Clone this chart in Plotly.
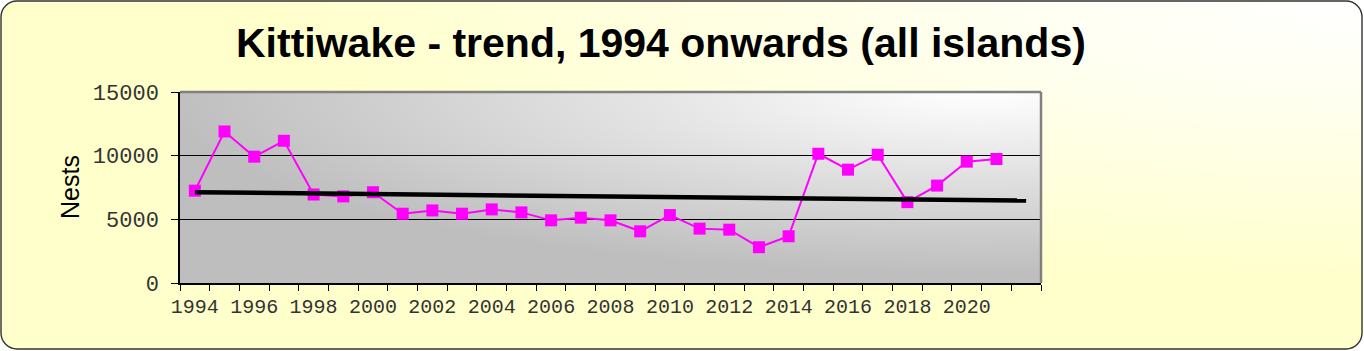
import base64
import numpy as np
import plotly.graph_objects as go

# ---- data ----
years = list(range(1994, 2022))
nests = [7250, 11900, 9920, 11170, 6950, 6800, 7130, 5440, 5700, 5440,
         5780, 5545, 4920, 5130, 4920, 4060, 5335, 4270, 4190, 2810,
         3670, 10150, 8900, 10075, 6350, 7650, 9530, 9740]
trend_years = [1994, 2022]
tick_years = list(range(1994, 2021, 2))
tick_labels = [str(y) for y in tick_years]
y_ticks = [0, 5000, 10000, 15000]
y_labels = ["0", "5000", "10000", "15000"]

# linear trendline (least squares, as the spreadsheet trendline), extended to 2022
slope, intercept = np.polyfit(years, nests, 1)
trend_vals = [slope * t + intercept for t in trend_years]

W, H = 1364, 351
L, R, T, B = 180, 1041, 92, 283  # plot area in pixels
pw, ph = R - L, B - T

outer_svg = f'''<svg xmlns="http://www.w3.org/2000/svg" width="{W}" height="{H}" viewBox="0 0 {W} {H}">
<defs><radialGradient id="g" cx="1" cy="0" r="0.8" fx="1" fy="0">
<stop offset="0" stop-color="#FFFFFF"/><stop offset="0.35" stop-color="#FFFFF0"/><stop offset="1" stop-color="#FFFFCC"/></radialGradient></defs>
<rect x="1" y="1" width="{W-3}" height="{H-3}" rx="16" ry="16" fill="url(#g)" stroke="#333333" stroke-width="1.4"/>
</svg>'''
plot_svg = f'''<svg xmlns="http://www.w3.org/2000/svg" width="{pw}" height="{ph}" viewBox="0 0 {pw} {ph}" preserveAspectRatio="none">
<defs><radialGradient id="p" cx="0.93" cy="0" r="0.95" fx="0.93" fy="0">
<stop offset="0" stop-color="#FFFFFF"/><stop offset="1" stop-color="#BEBEBE"/></radialGradient></defs>
<rect x="0" y="0" width="{pw}" height="{ph}" fill="url(#p)"/>
</svg>'''

def uri(s):
    return "data:image/svg+xml;base64," + base64.b64encode(s.encode()).decode()

fig = go.Figure()
fig.add_trace(go.Scatter(
    x=years, y=nests, mode="lines+markers",
    line=dict(color="#FF00FF", width=2),
    marker=dict(symbol="square", size=12, color="#FF00FF"),
    showlegend=False, hoverinfo="x+y"))
fig.add_trace(go.Scatter(
    x=trend_years, y=trend_vals, mode="lines",
    line=dict(color="black", width=4.5),
    showlegend=False, hoverinfo="skip"))

fig.update_layout(
    width=W, height=H,
    margin=dict(l=L, r=W - R, t=T, b=H - B, pad=0),
    paper_bgcolor="white", plot_bgcolor="rgba(0,0,0,0)",
    images=[
        dict(source=uri(outer_svg), xref="paper", yref="paper",
             x=-L / pw, y=B / ph, sizex=W / pw, sizey=H / ph,
             sizing="stretch", layer="below", xanchor="left", yanchor="top"),
        dict(source=uri(plot_svg), xref="paper", yref="paper",
             x=0, y=1, sizex=1, sizey=1,
             sizing="stretch", layer="below", xanchor="left", yanchor="top"),
    ],
    xaxis=dict(range=[1993.5, 2022.5], tickmode="array", tickvals=tick_years,
               ticktext=tick_labels, ticks="", showgrid=False, zeroline=False,
               showline=True, linecolor="black", linewidth=1.5,
               ticklabelstandoff=4,
               tickfont=dict(family="Liberation Mono", size=20, color="#333333"),
               minor=dict(tickmode="linear", tick0=1993.5, dtick=1, ticks="outside",
                          ticklen=6, tickcolor="black", tickwidth=1, showgrid=False)),
    yaxis=dict(range=[0, 15000], tickmode="array", tickvals=y_ticks, ticktext=y_labels,
               ticks="outside", ticklen=7, tickcolor="black", tickwidth=1,
               showgrid=True, gridcolor="black", gridwidth=1, zeroline=False,
               showline=True, linecolor="black", linewidth=1.5,
               ticklabelstandoff=8,
               tickfont=dict(family="Liberation Mono", size=22, color="#333333")),
    shapes=[
        dict(type="line", xref="paper", yref="paper", x0=0, x1=1, y0=1, y1=1,
             line=dict(color="#808080", width=2.5), layer="above"),
        dict(type="line", xref="paper", yref="paper", x0=1, x1=1, y0=0, y1=1,
             line=dict(color="#808080", width=2.5), layer="above"),
    ],
    annotations=[
        dict(text="<b>Kittiwake - trend, 1994 onwards (all islands)</b>",
             xref="paper", yref="paper", x=(661 - L) / pw, y=(B - 43) / ph,
             xanchor="center", yanchor="middle", showarrow=False,
             font=dict(family="Liberation Sans", size=41, color="black")),
        dict(text="Nests", xref="paper", yref="paper",
             x=(70 - L) / pw, y=(B - 187) / ph, textangle=-90,
             xanchor="center", yanchor="middle", showarrow=False,
             font=dict(family="Liberation Sans", size=25, color="black")),
    ],
)

fig.write_html("out.html")
